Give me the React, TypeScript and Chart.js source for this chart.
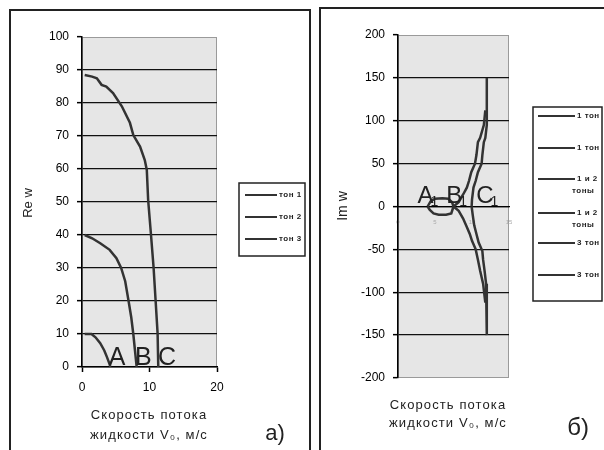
import React, { useEffect, useRef } from 'react';
import { Chart, registerables } from 'chart.js';

Chart.register(...registerables);

// ---------- Panel a): Re w ----------
const reTon1X = [0.4, 1.4, 2.0, 2.7, 3.3, 3.7, 4.1, 4.2];
const reTon1Y = [10, 10, 9, 7.2, 5, 3, 0.8, 0];
const reTon2X = [0.4, 1.5, 2.7, 4.1, 5.1, 5.8, 6.4, 6.9, 7.3, 7.6, 7.85, 8.1];
const reTon2Y = [40, 39, 37.5, 35.5, 33, 30, 26, 20, 15, 10, 5, 0];
const reTon3X = [0.4, 1.5, 2.2, 2.9, 3.6, 4.6, 5.9, 7.1, 7.6, 8.6, 9.3, 9.6, 9.8, 10.2, 10.6, 10.9, 11.2, 11.3];
const reTon3Y = [88.5, 88, 87.5, 85.5, 85, 83, 79, 74, 70.3, 66.8, 62.7, 59.7, 50.6, 40.6, 30.3, 20.3, 10.2, 0];
const reLabels = ['тон 1', 'тон 2', 'тон 3'];
const reMarks = [
  { text: 'A', sub: '', x: 5.2, y: 0.6 },
  { text: 'B', sub: '', x: 9.1, y: 0.6 },
  { text: 'C', sub: '', x: 12.6, y: 0.6 },
];

// ---------- Panel б): Im w ----------
const imTon1UpX = [4.0, 4.4, 5.0, 6.0, 6.8, 7.3, 7.5];
const imTon1UpY = [0, 6, 9, 9.5, 9, 5, 0];
const imTon1DnX = [4.0, 4.3, 4.8, 5.5, 6.5, 7.2, 7.5];
const imTon1DnY = [0, -4, -8, -9.5, -9.5, -8, 0];
const imTon12UpX = [7.5, 8.2, 8.8, 9.3, 9.6, 9.9, 10.4, 10.6, 10.8, 11.1, 11.6, 11.8];
const imTon12UpY = [0, 5, 14, 22, 30, 40, 50, 60, 75, 80, 95, 112];
const imTon12DnX = [7.5, 8.2, 8.8, 9.3, 9.7, 10.0, 10.5, 10.8, 11.1, 11.5, 11.8];
const imTon12DnY = [0, -5, -14, -24, -32, -40, -50, -62, -75, -90, -112];
const imTon3UpX = [9.95, 10.0, 10.2, 10.5, 10.8, 11.3, 11.4, 11.6, 11.8, 12.0, 12.0];
const imTon3UpY = [0, 8, 22, 30, 40, 50, 60, 75, 80, 95, 150];
const imTon3DnX = [9.95, 10.1, 10.3, 10.6, 10.9, 11.4, 11.5, 11.7, 11.9, 12.0, 12.0];
const imTon3DnY = [0, -10, -22, -32, -42, -52, -62, -75, -90, -100, -150];
const imLabels = ['1 тон', '1 тон', '1 и 2 тоны', '1 и 2 тоны', '3 тон', '3 тон'];
const imMarks = [
  { text: 'A', sub: '1', x: 3.7, y: 3.5 },
  { text: 'B', sub: '1', x: 7.6, y: 3.5 },
  { text: 'C', sub: '1', x: 11.75, y: 3.5 },
];

const xTitleLines = ['Скорость потока', 'жидкости V₀, м/с'];

const LINE = '#333333';
const FONT = "'Liberation Sans', Arial, 'DejaVu Sans', sans-serif";
const NARROW = "'Liberation Sans Narrow', 'Liberation Sans', Arial, sans-serif";

const pts = (xs: number[], ys: number[]) => xs.map((x, i) => ({ x, y: ys[i] }));

const line = (label: string, xs: number[], ys: number[]) => ({
  label,
  data: pts(xs, ys),
  showLine: true,
  borderColor: LINE,
  backgroundColor: LINE,
  borderWidth: 2.5,
  pointRadius: 0,
  tension: 0,
  fill: false,
});

function wrap(ctx: CanvasRenderingContext2D, text: string, maxW: number): string[] {
  const words = text.split(' ');
  const out: string[] = [];
  let cur = '';
  for (const w of words) {
    const t = cur ? cur + ' ' + w : w;
    if (cur && ctx.measureText(t).width > maxW) {
      out.push(cur);
      cur = w;
    } else cur = t;
  }
  if (cur) out.push(cur);
  return out;
}

const decor = {
  id: 'decor',
  beforeDraw(chart: any, _a: any, o: any) {
    const { ctx, chartArea: a } = chart;
    ctx.save();
    ctx.fillStyle = o.plotBg;
    ctx.fillRect(a.left, a.top, a.right - a.left, a.bottom - a.top);
    ctx.strokeStyle = o.plotBorder;
    ctx.lineWidth = 1;
    ctx.strokeRect(a.left + 0.5, a.top + 0.5, a.right - a.left - 1, a.bottom - a.top - 1);
    ctx.restore();
  },
  afterDraw(chart: any, _a: any, o: any) {
    const { ctx } = chart;
    const xs = chart.scales.x;
    const ys = chart.scales.y;
    ctx.save();
    ctx.fillStyle = '#222';
    // point marks
    for (const m of o.marks) {
      const px = xs.getPixelForValue(m.x);
      const py = ys.getPixelForValue(m.y);
      ctx.font = o.markFont;
      ctx.textAlign = 'center';
      ctx.textBaseline = 'alphabetic';
      ctx.fillText(m.text, px, py);
      if (m.sub) {
        const w = ctx.measureText(m.text).width;
        ctx.font = o.subFont;
        ctx.textAlign = 'left';
        ctx.fillText(m.sub, px + w / 2 - 3, py + 3);
      }
    }
    // x title
    ctx.font = o.titleFont;
    ctx.textAlign = 'center';
    ctx.textBaseline = 'middle';
    (ctx as any).letterSpacing = o.titleSpacing;
    o.xTitle.forEach((ln: string, i: number) => ctx.fillText(ln, o.xTitleX, o.xTitleY + i * o.xTitleGap));
    (ctx as any).letterSpacing = '0px';
    // y title
    ctx.save();
    ctx.font = o.yTitleFont;
    ctx.translate(o.yTitleX, o.yTitleY);
    ctx.rotate(-Math.PI / 2);
    ctx.fillText(o.yTitle, 0, 0);
    ctx.restore();
    // panel label
    ctx.font = o.panelFont;
    ctx.textAlign = 'center';
    ctx.fillText(o.panel, o.panelX, o.panelY);
    // legend
    const L = o.legend;
    ctx.strokeStyle = '#222';
    ctx.lineWidth = 1.5;
    ctx.strokeRect(L.x, L.y, L.w, L.h);
    chart.data.datasets.forEach((ds: any, i: number) => {
      const y = L.items[i];
      ctx.strokeStyle = ds.borderColor;
      ctx.lineWidth = 2;
      ctx.beginPath();
      ctx.moveTo(L.lineX0, y);
      ctx.lineTo(L.lineX1, y);
      ctx.stroke();
      ctx.font = L.font;
      (ctx as any).letterSpacing = L.spacing;
      ctx.textAlign = 'left';
      ctx.textBaseline = 'middle';
      const lines = wrap(ctx, ds.label, L.maxW);
      lines.forEach((ln: string, j: number) => ctx.fillText(ln, j === 0 ? L.textX : L.textX2, y + j * L.lineGap));
      (ctx as any).letterSpacing = '0px';
    });
    ctx.restore();
  },
};

const tickFont = { family: FONT, size: 12 };

function reConfig(): any {
  return {
    type: 'scatter',
    data: {
      datasets: [
        line(reLabels[0], reTon1X, reTon1Y),
        line(reLabels[1], reTon2X, reTon2Y),
        line(reLabels[2], reTon3X, reTon3Y),
      ],
    },
    plugins: [decor],
    options: {
      animation: false,
      responsive: false,
      layout: { padding: { left: 0, right: 93, top: 37, bottom: 0 } },
      plugins: {
        legend: { display: false },
        tooltip: { enabled: false },
        decor: {
          plotBg: '#e6e6e6',
          plotBorder: '#9a9a9a',
          marks: reMarks,
          markFont: `25px ${NARROW}`,
          subFont: `14px ${NARROW}`,
          titleFont: `13px ${FONT}`,
          titleSpacing: '1.1px',
          xTitle: xTitleLines,
          xTitleX: 149,
          xTitleY: 415,
          xTitleGap: 20,
          yTitle: 'Re w',
          yTitleFont: `13px ${FONT}`,
          yTitleX: 28,
          yTitleY: 203,
          panel: 'а)',
          panelFont: `22px ${FONT}`,
          panelX: 275,
          panelY: 434,
          legend: {
            x: 239, y: 183, w: 66, h: 73,
            items: [195, 217, 239],
            lineX0: 245, lineX1: 277,
            textX: 279, textX2: 279, maxW: 40, lineGap: 12,
            font: `bold 8px ${FONT}`, spacing: '0.5px',
          },
        },
      },
      scales: {
        x: {
          type: 'linear',
          min: 0,
          max: 20,
          afterFit: (s: any) => { s.height = 83; },
          ticks: { stepSize: 10, font: tickFont, color: '#000', padding: 8 },
          grid: { drawOnChartArea: false, drawTicks: true, tickLength: 5, tickColor: '#000', tickWidth: 1.5 },
          border: { color: '#000', width: 1.5 },
        },
        y: {
          type: 'linear',
          min: 0,
          max: 100,
          afterFit: (s: any) => { s.width = 82; },
          ticks: { stepSize: 10, font: tickFont, color: '#000', padding: 8 },
          grid: {
            color: (c: any) => (c.tick && c.tick.value === 100 ? 'rgba(0,0,0,0)' : '#111'),
            lineWidth: 1.3,
            tickLength: 5,
            tickColor: '#000',
            tickWidth: 1.5,
          },
          border: { color: '#000', width: 1.5 },
        },
      },
    },
  };
}

function imConfig(): any {
  return {
    type: 'scatter',
    data: {
      datasets: [
        line(imLabels[0], imTon1UpX, imTon1UpY),
        line(imLabels[1], imTon1DnX, imTon1DnY),
        line(imLabels[2], imTon12UpX, imTon12UpY),
        line(imLabels[3], imTon12DnX, imTon12DnY),
        line(imLabels[4], imTon3UpX, imTon3UpY),
        line(imLabels[5], imTon3DnX, imTon3DnY),
      ],
    },
    plugins: [decor],
    options: {
      animation: false,
      responsive: false,
      layout: { padding: { left: 0, right: 95, top: 35, bottom: 72 } },
      plugins: {
        legend: { display: false },
        tooltip: { enabled: false },
        decor: {
          plotBg: '#e6e6e6',
          plotBorder: '#9a9a9a',
          marks: imMarks,
          markFont: `24px ${NARROW}`,
          subFont: `14px ${NARROW}`,
          titleFont: `13px ${FONT}`,
          titleSpacing: '1.1px',
          xTitle: xTitleLines,
          xTitleX: 138,
          xTitleY: 405,
          xTitleGap: 18,
          yTitle: 'Im w',
          yTitleFont: `14px ${FONT}`,
          yTitleX: 33,
          yTitleY: 206,
          panel: 'б)',
          panelFont: `24px ${FONT}`,
          panelX: 268,
          panelY: 428,
          legend: {
            x: 223, y: 107, w: 69, h: 194,
            items: [116, 148, 179, 213, 243, 275],
            lineX0: 228, lineX1: 265,
            textX: 267, textX2: 262, maxW: 26, lineGap: 12,
            font: `bold 8px ${FONT}`, spacing: '0.5px',
          },
        },
      },
      scales: {
        x: {
          type: 'linear',
          position: { y: 0 },
          min: 0,
          max: 15,
          ticks: { stepSize: 5, font: { family: FONT, size: 6 }, color: '#aaaaaa', padding: 12 },
          grid: { drawOnChartArea: false, drawTicks: false },
          border: { color: '#000', width: 1.3 },
        },
        y: {
          type: 'linear',
          min: -200,
          max: 200,
          afterFit: (s: any) => { s.width = 88; },
          ticks: { stepSize: 50, font: tickFont, color: '#000', padding: 8 },
          grid: {
            color: (c: any) => (c.tick && Math.abs(c.tick.value) === 200 ? 'rgba(0,0,0,0)' : '#111'),
            lineWidth: 1.3,
            tickLength: 5,
            tickColor: '#000',
            tickWidth: 1.5,
          },
          border: { color: '#000', width: 1.5 },
        },
      },
    },
  };
}

function ChartCanvas({ make, left, width }: { make: () => any; left: number; width: number }) {
  const ref = useRef<HTMLCanvasElement | null>(null);
  useEffect(() => {
    if (!ref.current) return;
    const chart = new Chart(ref.current, make());
    return () => chart.destroy();
  }, [make]);
  return (
    <canvas
      ref={ref}
      width={width}
      height={450}
      style={{ position: 'absolute', left, top: 0, width, height: 450, display: 'block' }}
    />
  );
}

export default function App() {
  return (
    <div style={{ position: 'absolute', left: 0, top: 0, width: 604, height: 450, overflow: 'hidden', background: '#fff' }}>
      <div style={{ position: 'absolute', left: 9, top: 9, width: 298, height: 480, border: '2px solid #222' }} />
      <div style={{ position: 'absolute', left: 319, top: 7, width: 300, height: 480, border: '2px solid #222' }} />
      <ChartCanvas make={reConfig} left={0} width={310} />
      <ChartCanvas make={imConfig} left={310} width={294} />
    </div>
  );
}
